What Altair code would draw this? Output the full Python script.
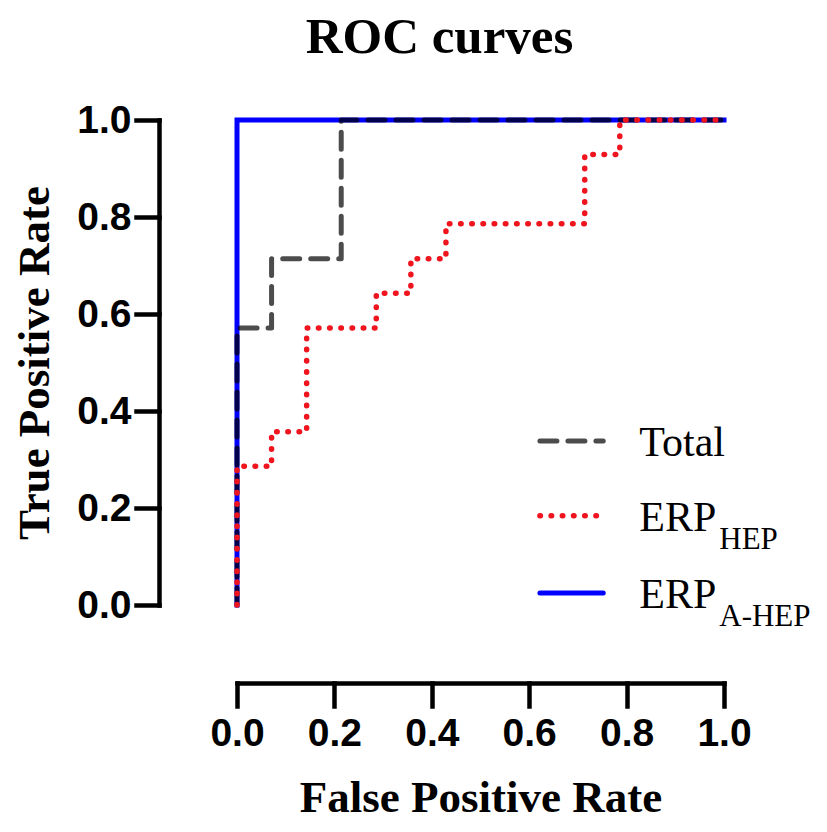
import altair as alt
import pandas as pd

# ---- data ----
fpr_total = [0.0, 0.0, 0.071, 0.071, 0.214, 0.214, 1.0]
tpr_total = [0.0, 0.571, 0.571, 0.714, 0.714, 1.0, 1.0]

fpr_hep = [0.0, 0.0, 0.071, 0.071, 0.143, 0.143, 0.286, 0.286, 0.357, 0.357,
           0.429, 0.429, 0.714, 0.714, 0.786, 0.786, 1.0]
tpr_hep = [0.0, 0.286, 0.286, 0.357, 0.357, 0.571, 0.571, 0.643, 0.643, 0.714,
           0.714, 0.786, 0.786, 0.929, 0.929, 1.0, 1.0]

fpr_ahep = [0.0, 0.0, 1.0]
tpr_ahep = [0.0, 1.0, 1.0]

tick_values = [0.0, 0.2, 0.4, 0.6, 0.8, 1.0]
legend_labels = ["Total", "ERP", "ERP"]
legend_subs = ["", "HEP", "A-HEP"]


def frame(fx, ty):
    return pd.DataFrame({"fpr": fx, "tpr": ty, "i": list(range(len(fx)))})


df_total = frame(fpr_total, tpr_total)
df_hep = frame(fpr_hep, tpr_hep)
df_ahep = frame(fpr_ahep, tpr_ahep)

# legend placement (in data units of the plot)
leg = pd.DataFrame({
    "x0": [0.622, 0.622, 0.622],
    "x1": [0.752, 0.752, 0.752],
    "tx": [0.826, 0.826, 0.826],
    "y": [0.338, 0.184, 0.025],
    "label": legend_labels,
    "sub": legend_subs,
})

AX_FONT = "Liberation Sans"
SERIF = "Liberation Serif"

xscale = alt.Scale(domain=[0, 1], nice=False, zero=False)
yscale = alt.Scale(domain=[0, 1], nice=False, zero=False)

common_axis = dict(
    values=tick_values, format=".1f", grid=False,
    domainColor="black", domainWidth=4.5, domainCap="square",
    tickColor="black", tickWidth=4.5, tickSize=23, tickCap="square",
    labelFont=AX_FONT, labelFontWeight="bold", labelFontSize=39, labelColor="black",
    titleFont=SERIF, titleFontWeight="bold", titleFontSize=45, titleColor="black",
    offset=78, labelOverlap=False, labelBound=False, labelFlush=False,
)

X = alt.X("fpr:Q", scale=xscale,
          axis=alt.Axis(title="False Positive Rate", labelPadding=8, titlePadding=22, **common_axis))
Y = alt.Y("tpr:Q", scale=yscale,
          axis=alt.Axis(title="True Positive Rate", labelPadding=5, titlePadding=19, **common_axis))

blue = alt.Chart(df_ahep).mark_line(
    color="#0000ff", strokeWidth=5, strokeJoin="miter", strokeCap="square"
).encode(x=X, y=Y, order="i:Q")

total = alt.Chart(df_total).mark_line(
    color="black", strokeOpacity=0.7, strokeWidth=5, strokeDash=[17, 11],
    strokeCap="round", strokeJoin="round"
).encode(x=X, y=Y, order="i:Q")

hep = alt.Chart(df_hep).mark_line(
    color="#f0141e", strokeWidth=5.5, strokeDash=[0.5, 10.7],
    strokeCap="round", strokeJoin="round"
).encode(x=X, y=Y, order="i:Q")

LX0 = alt.X("x0:Q", scale=xscale)
LY = alt.Y("y:Q", scale=yscale)

leg_total = alt.Chart(leg.iloc[[0]]).mark_rule(
    color="black", strokeOpacity=0.7, strokeWidth=5, strokeDash=[17, 11], strokeCap="round"
).encode(x=LX0, x2="x1:Q", y=LY)
leg_hep = alt.Chart(leg.iloc[[1]]).mark_rule(
    color="#f0141e", strokeWidth=5.5, strokeDash=[0.5, 10.7], strokeCap="round"
).encode(x=LX0, x2="x1:Q", y=LY)
leg_ahep = alt.Chart(leg.iloc[[2]]).mark_rule(
    color="#0000ff", strokeWidth=5, strokeCap="round"
).encode(x=LX0, x2="x1:Q", y=LY)

leg_text = alt.Chart(leg).mark_text(
    align="left", baseline="alphabetic", font=SERIF, fontSize=42, color="black", dy=15
).encode(x=alt.X("tx:Q", scale=xscale), y=LY, text="label:N")

leg_sub = alt.Chart(leg).mark_text(
    align="left", baseline="alphabetic", font=SERIF, fontSize=31, color="black", dx=80, dy=33
).encode(x=alt.X("tx:Q", scale=xscale), y=LY, text="sub:N")

chart = alt.layer(
    blue, total, hep, leg_total, leg_hep, leg_ahep, leg_text, leg_sub
).properties(
    width=487, height=485,
    title=alt.TitleParams(
        "ROC curves", font=SERIF, fontWeight="bold", fontSize=51, color="black",
        anchor="middle", frame="group", dx=-41, offset=37,
    ),
    autosize=alt.AutoSizeParams(type="none"),
    padding={"left": 229, "top": 112, "right": 95, "bottom": 215},
).configure_view(stroke=None)

chart.save("out.html", embed_options={"renderer": "svg", "actions": False})
